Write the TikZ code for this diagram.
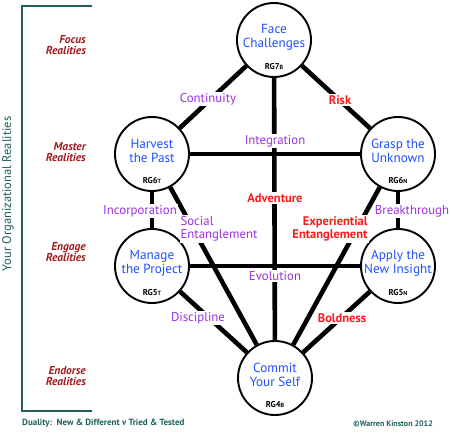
\documentclass[tikz,border=0pt]{standalone}
\usepackage{fontspec}
\setmainfont{PT Sans}
\definecolor{tealx}{HTML}{1E5F5B}
\definecolor{nodeblue}{HTML}{1F4FFF}
\definecolor{lblpurple}{HTML}{9933DD}
\definecolor{lblred}{HTML}{FF1A1A}
\definecolor{realred}{HTML}{9E1B20}
\begin{document}
\begin{tikzpicture}[x=1pt,y=-1pt,
  stage/.style={circle, draw, line width=1.9pt, minimum size=74pt, inner sep=0pt},
  conn/.style={line width=4.6pt},
  stxt/.style={text=nodeblue, font=\fontsize{13.2}{14}\selectfont, align=center, inner sep=0pt},
  rg/.style={font=\fontsize{8.5}{9}\selectfont\bfseries, inner sep=0pt},
  plbl/.style={text=lblpurple, fill=white, inner sep=1.5pt, font=\fontsize{12.8}{13.5}\selectfont},
  rlbl/.style={text=lblred, fill=white, inner sep=1.5pt, font=\fontsize{12.5}{13.5}\selectfont\bfseries},
  real/.style={text=realred, font=\fontsize{11.5}{11.8}\selectfont\itshape\bfseries, align=right, anchor=east, inner sep=0pt},
  foot/.style={text=tealx, font=\fontsize{9}{10}\selectfont\bfseries, inner sep=0pt}
]
\useasboundingbox (0,0) rectangle (451,433);
\newcommand{\sm}[1]{{\fontsize{6}{6}\selectfont #1}}
% stage circles
\node[stage] (F) at (274,40) {};
\node[stage] (H) at (152,154) {};
\node[stage] (G) at (398,154) {};
\node[stage] (M) at (152,266) {};
\node[stage] (A) at (398,266) {};
\node[stage] (C) at (275,378) {};
% texts in circles
\node[stxt] (Ft) at ([yshift=3pt]F.center) {Face\\Challenges};
\node[rg] (Fr) at ([yshift=-27pt]F.center) {RG7\sm{B}};
\node[stxt] (Ht) at ([yshift=3pt]H.center) {Harvest\\the Past};
\node[rg] (Hr) at ([yshift=-27pt]H.center) {RG6\sm{T}};
\node[stxt] (Gt) at ([yshift=3pt]G.center) {Grasp the\\Unknown};
\node[rg] (Gr) at ([yshift=-27pt]G.center) {RG6\sm{N}};
\node[stxt] (Mt) at ([yshift=3pt]M.center) {Manage\\the Project};
\node[rg] (Mr) at ([yshift=-27pt]M.center) {RG5\sm{T}};
\node[stxt] (At) at ([yshift=3pt]A.center) {Apply the\\New Insight};
\node[rg] (Ar) at ([yshift=-27pt]A.center) {RG5\sm{N}};
\node[stxt] (Ct) at ([yshift=3pt]C.center) {Commit\\Your Self};
\node[rg] (Cr) at ([yshift=-27pt]C.center) {RG4\sm{B}};
% connectors
\draw[conn] (F) -- (H);
\draw[conn] (F) -- (G);
\draw[conn] (F) -- (C);
\draw[conn] (H) -- (G);
\draw[conn] (M) -- (A);
\draw[conn] (H) -- (M);
\draw[conn] (G) -- (A);
\draw[conn] (H) -- (C);
\draw[conn] (G) -- (C);
\draw[conn] (M) -- (C);
\draw[conn] (A) -- (C);
% connector labels
\node[plbl] (lcont) at (208,99) {Continuity};
\node[rlbl] (lrisk) at (340,100) {Risk};
\node[plbl] (lint) at (275,141) {Integration};
\node[rlbl] (ladv) at (275,198) {Adventure};
\node[plbl] (linc) at (140,211) {Incorporation};
\node[plbl] (lbrk) at (412,211) {Breakthrough};
\node[plbl, align=left, inner sep=1pt] (lsoc) at (219,229) {Social\\Entanglement};
\node[rlbl, align=right, inner sep=1pt] (lexp) at (330,229) {Experiential\\Entanglement};
\node[plbl] (levo) at (275,276) {Evolution};
\node[plbl] (ldis) at (198,318) {Discipline};
\node[rlbl] (lbold) at (342,318) {Boldness};
% left bracket
\coordinate (b1) at (92,6);
\coordinate (b2) at (22,6);
\coordinate (b3) at (22,411);
\coordinate (b4) at (92,411);
\draw[tealx, line width=2.3pt] (b1) -- (b2) -- (b3) -- (b4);
\node[rotate=90, text=tealx, font=\fontsize{12.5}{14}\selectfont, inner sep=0pt] (vt) at (8,194) {Your Organizational Realities};
% level labels
\node[real] (rf) at (86,45) {Focus\\Realities};
\node[real] (rm) at (86,152) {Master\\Realities};
\node[real] (re) at (86,252) {Engage\\Realities};
\node[real] (rd) at (86,376) {Endorse\\Realities};
% footer
\node[foot, anchor=west] (dual) at (22,423) {Duality:\ \ New \& Different v Tried \& Tested};
\node[foot, anchor=east, font=\fontsize{8}{9}\selectfont\bfseries] (copy) at (433,424) {\textcopyright Warren Kinston 2012};
\end{tikzpicture}
\end{document}
